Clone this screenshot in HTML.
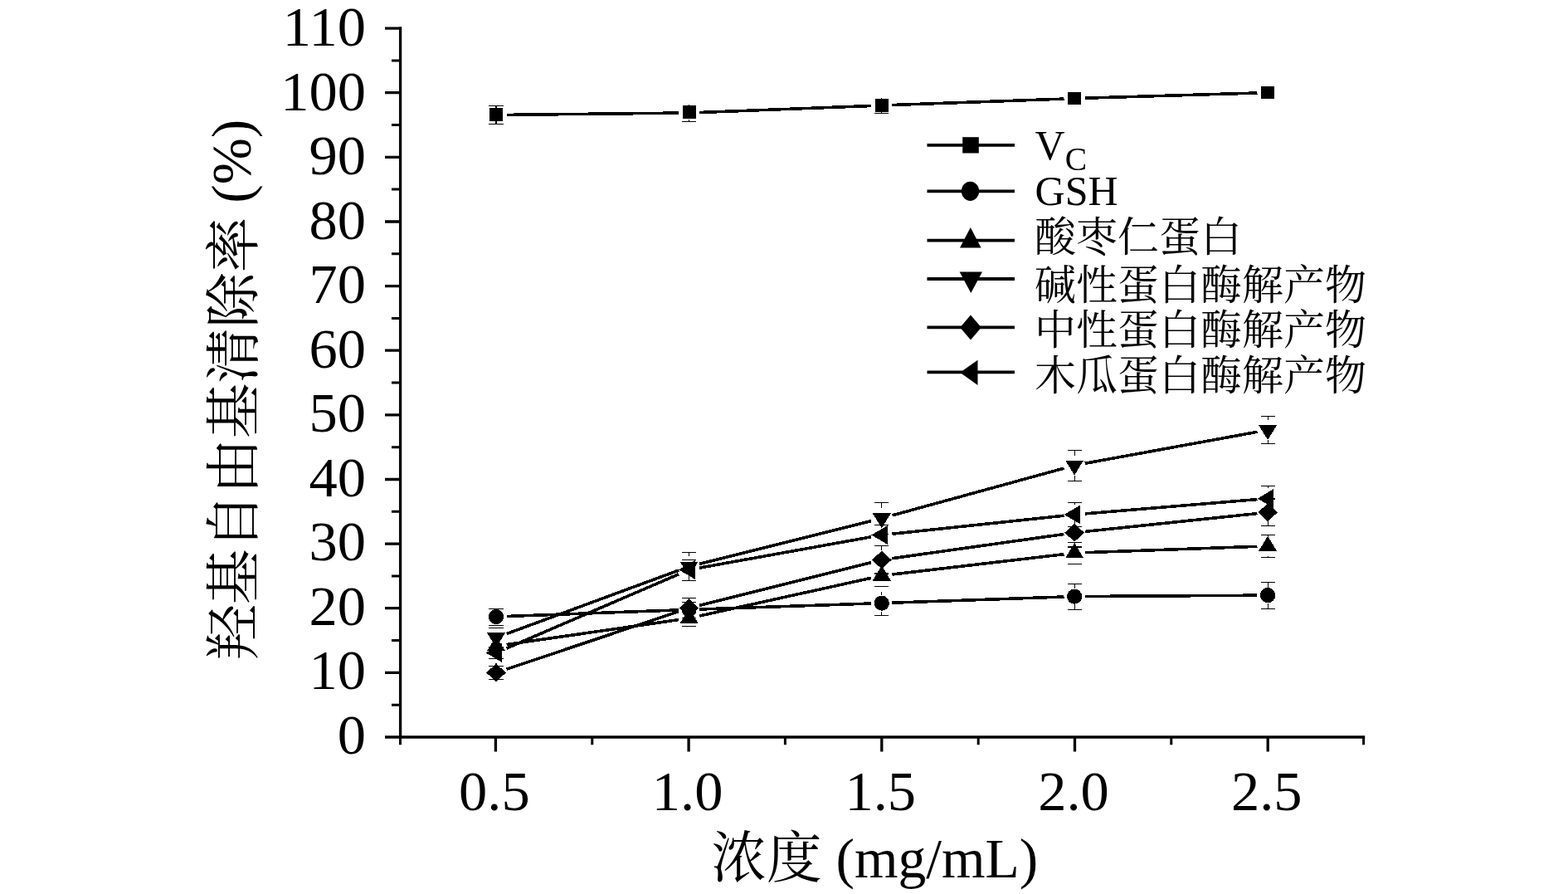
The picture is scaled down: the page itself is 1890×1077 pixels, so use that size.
<!DOCTYPE html>
<html lang="zh"><head><meta charset="utf-8"><title>羟基自由基清除率</title>
<style>html,body{margin:0;padding:0;background:#fff;overflow:hidden}svg{display:block}</style></head>
<body>
<svg width="1890" height="1077" viewBox="0 0 1890 1077">
<rect width="1890" height="1077" fill="#fff"/>
<g id="axes" stroke="#000" stroke-width="3.3" fill="none">
<path d="M482.6 32.4 V889.7"/>
<path d="M464 888 H1645.2"/>
<path d="M464 810.4 H484 M464 732.7 H484 M464 655.1 H484 M464 577.5 H484 M464 499.9 H484 M464 422.2 H484 M464 344.6 H484 M464 267 H484 M464 189.3 H484 M464 111.7 H484 M464 34.1 H484"/>
<path stroke-width="3" d="M472 849.2 H484 M472 771.6 H484 M472 693.9 H484 M472 616.3 H484 M472 538.7 H484 M472 461 H484 M472 383.4 H484 M472 305.8 H484 M472 228.1 H484 M472 150.5 H484 M472 72.9 H484"/>
<path d="M597.4 888 V905.5 M830.1 888 V905.5 M1062.8 888 V905.5 M1295.5 888 V905.5 M1528.2 888 V905.5"/>
<path stroke-width="3" d="M482.5 888 V897.2 M713.8 888 V897.2 M946.4 888 V897.2 M1179.2 888 V897.2 M1411.8 888 V897.2 M1643.6 888 V897.2"/>
</g>
<g id="curves" stroke="#000" stroke-width="3.6" fill="none" shape-rendering="crispEdges">
<path d="M610.6 138.4 L818 136.1 M843.2 135.5 L1050.2 127.5 M1075.4 126.5 L1282.5 119.1 M1307.7 118.2 L1515.5 112"/>
<path d="M610.6 742.5 L818 734.9 M843.2 734 L1050.2 727 M1075.4 726.2 L1282.5 719 M1307.7 718.5 L1515.5 717.2"/>
<path d="M610.6 776.5 L818 746.6 M843.2 742 L1050.2 696.3 M1075.4 692 L1282.5 667.7 M1307.7 665.7 L1515.5 658.3"/>
<path d="M610.6 763.6 L818 687.1 M843.2 679.3 L1050.2 627.6 M1075.4 620.9 L1282.5 564.1 M1307.7 558.3 L1515.5 520.3"/>
<path d="M610.6 806.2 L818 736.6 M843.2 729.3 L1050.2 677.6 M1075.4 672.7 L1282.5 643.5 M1307.7 640.4 L1515.5 618.6"/>
<path d="M610.6 781 L818 691.8 M843.2 684.1 L1050.2 646.8 M1075.4 643.2 L1282.5 621.2 M1307.7 618.9 L1515.5 601.6"/>
</g>
<g id="errorbars" stroke="#000" stroke-width="1.2" fill="none" shape-rendering="crispEdges">
<path d="M598 127.7 V130.4 M598 146.4 V149.1 M589.4 127.7 H606.6 M589.4 149.1 H606.6 M830.6 126 V128.2 M830.6 144.2 V146.5 M822 146.5 H839.2 M1062.8 118 V119.2 M1062.8 135.2 V136.3 M1054.2 136.3 H1071.4"/>
<path d="M598 733.3 V733.7 M598 752.9 V753.3 M589.4 733.3 H606.6 M589.4 753.3 H606.6 M822 725.5 H839.2 M1062.8 712.6 V717.3 M1062.8 736.5 V741.2 M1054.2 741.2 H1071.4 M1295.1 703.2 V709.2 M1295.1 728.4 V734.4 M1286.5 703.2 H1303.7 M1286.5 734.4 H1303.7 M1528.1 701.4 V707.9 M1528.1 727.1 V733.5 M1519.5 701.4 H1536.7 M1519.5 733.5 H1536.7"/>
<path d="M598 763.4 V766 M598 790.6 V793.2 M589.4 763.4 H606.6 M589.4 793.2 H606.6 M822 735.3 H839.2 M822 754.3 H839.2 M1062.8 680.5 V681.2 M1062.8 705.8 V706.5 M1054.2 706.5 H1071.4 M1295.1 653.6 V654.3 M1295.1 678.9 V679.6 M1286.5 653.6 H1303.7 M1286.5 679.6 H1303.7 M1528.1 644.5 V645.7 M1528.1 670.2 V671.4 M1519.5 644.5 H1536.7 M1519.5 671.4 H1536.7"/>
<path d="M589.4 756.4 H606.6 M589.4 780 H606.6 M830.6 665.4 V670.2 M830.6 694.4 V699.2 M822 665.4 H839.2 M822 699.2 H839.2 M1062.8 605.5 V612.4 M1062.8 636.6 V643.4 M1054.2 605.5 H1071.4 M1054.2 643.4 H1071.4 M1295.1 542.4 V548.9 M1295.1 573.1 V579.5 M1286.5 542.4 H1303.7 M1286.5 579.5 H1303.7 M1528.1 501.4 V505.9 M1528.1 530.1 V534.5 M1519.5 501.4 H1536.7 M1519.5 534.5 H1536.7"/>
<path d="M589.4 802.5 H606.6 M589.4 818.4 H606.6 M830.6 720.1 V721.4 M830.6 743.4 V744.7 M822 720.1 H839.2 M822 744.7 H839.2 M1062.8 657.6 V663.3 M1062.8 685.3 V691 M1054.2 657.6 H1071.4 M1054.2 691 H1071.4 M1295.1 624.5 V630.7 M1295.1 652.7 V658.9 M1286.5 658.9 H1303.7 M1528.1 601 V606.2 M1528.1 628.2 V633.5 M1519.5 601 H1536.7 M1519.5 633.5 H1536.7"/>
<path d="M598 770.4 V774.1 M598 798.7 V802.4 M589.4 802.4 H606.6 M822 674.4 H839.2 M1062.8 632.2 V632.4 M1062.8 657 V657.1 M1054.2 632.2 H1071.4 M1054.2 657.1 H1071.4 M1295.1 605.2 V607.6 M1295.1 632.2 V634.6 M1286.5 605.2 H1303.7 M1286.5 634.6 H1303.7 M1528.1 585.3 V588.3 M1528.1 612.9 V615.9 M1519.5 585.3 H1536.7 M1519.5 615.9 H1536.7"/>
</g>
<g id="markers" fill="#000" shape-rendering="crispEdges">
<rect x="590" y="130.3" width="16" height="15.6"/>
<rect x="822.6" y="127.1" width="16" height="15.6"/>
<rect x="1054.8" y="119" width="16" height="15.6"/>
<rect x="1287.1" y="110.8" width="16" height="15.6"/>
<rect x="1520.1" y="103.6" width="16" height="15.6"/>
<circle cx="598" cy="743" r="9.1"/>
<circle cx="830.6" cy="734.4" r="9.1"/>
<circle cx="1062.8" cy="726.6" r="9.1"/>
<circle cx="1295.1" cy="718.6" r="9.1"/>
<circle cx="1528.1" cy="717.1" r="9.1"/>
<polygon points="587,784.3 609,784.3 598,766.2"/>
<polygon points="819.6,750.8 841.6,750.8 830.6,732.7"/>
<polygon points="1051.8,699.5 1073.8,699.5 1062.8,681.4"/>
<polygon points="1284.1,672.2 1306.1,672.2 1295.1,654.1"/>
<polygon points="1517.1,663.8 1539.1,663.8 1528.1,645.7"/>
<polygon points="587,762.2 609,762.2 598,780.3"/>
<polygon points="819.6,676.5 841.6,676.5 830.6,694.6"/>
<polygon points="1051.8,618.4 1073.8,618.4 1062.8,636.5"/>
<polygon points="1284.1,554.6 1306.1,554.6 1295.1,572.7"/>
<polygon points="1517.1,512 1539.1,512 1528.1,530.1"/>
<polygon points="586.2,810.4 598,799.4 609.8,810.4 598,821.4"/>
<polygon points="818.8,732.4 830.6,721.4 842.4,732.4 830.6,743.4"/>
<polygon points="1051,674.5 1062.8,663.5 1074.6,674.5 1062.8,685.5"/>
<polygon points="1283.3,641.7 1295.1,630.7 1306.9,641.7 1295.1,652.7"/>
<polygon points="1516.3,617.3 1528.1,606.3 1539.9,617.3 1528.1,628.3"/>
<polygon points="585.6,786.4 604.9,775 604.9,797.8"/>
<polygon points="818.2,686.4 837.5,675 837.5,697.8"/>
<polygon points="1050.4,644.5 1069.7,633.1 1069.7,655.9"/>
<polygon points="1282.7,619.9 1302,608.5 1302,631.3"/>
<polygon points="1515.7,600.6 1535,589.2 1535,612"/>
</g>
<g id="legend-lines" stroke="#000" stroke-width="3.8" fill="none">
<path d="M1117.5 174.8 H1223"/>
<path d="M1117.5 230.3 H1223"/>
<path d="M1117.5 289.6 H1223"/>
<path d="M1117.5 336 H1223"/>
<path d="M1117.5 394.4 H1223"/>
<path d="M1117.5 448.4 H1223"/>
</g>
<g id="legend-markers" fill="#000">
<rect x="1160.2" y="165.2" width="19.6" height="19.3"/>
<ellipse cx="1169.5" cy="230.3" rx="10.6" ry="11.6"/>
<polygon points="1157,298.4 1182.6,298.4 1169.8,273.9"/>
<polygon points="1156.6,327.4 1184,327.4 1170.3,353"/>
<polygon points="1157.2,394.6 1170,379.6 1182.8,394.6 1170,409.6"/>
<polygon points="1157.2,448.8 1178.5,433.7 1178.5,464"/>
</g>
<g id="labels" font-family="'Liberation Serif','Noto Serif CJK SC',serif" fill="#000">
<g font-size="68.5" text-anchor="end">
<text x="441" y="907.8">0</text>
<text x="441" y="830.3">10</text>
<text x="441" y="752.8">20</text>
<text x="441" y="675.2">30</text>
<text x="441" y="597.7">40</text>
<text x="441" y="520.2">50</text>
<text x="441" y="442.7">60</text>
<text x="441" y="365.2">70</text>
<text x="441" y="287.6">80</text>
<text x="441" y="210.1">90</text>
<text x="441" y="132.6">100</text>
<text x="441" y="55.1">110</text>
</g>
<g font-size="68.5" text-anchor="middle">
<text x="595.9" y="976.2">0.5</text>
<text x="828.6" y="976.2">1.0</text>
<text x="1061.3" y="976.2">1.5</text>
<text x="1294" y="976.2">2.0</text>
<text x="1526.7" y="976.2">2.5</text>
</g>
<text x="1054.2" y="1057" font-size="66.7" text-anchor="middle">浓度<tspan font-size="67.5"> (mg/mL)</tspan></text>
<text transform="translate(305 469.4) rotate(-90)" font-size="66.7" text-anchor="middle">羟基自由基清除率<tspan font-size="67.3" dy="-3"> (%)</tspan></text>
<text x="1247.6" y="192" font-size="50">V<tspan font-size="39.5" dy="13.3">C</tspan></text>
<text x="1247.6" y="246.8" font-size="50">GSH</text>
<text x="1247" y="303" font-size="50">酸枣仁蛋白</text>
<text x="1247" y="360.6" font-size="50">碱性蛋白酶解产物</text>
<text x="1247" y="415.3" font-size="50">中性蛋白酶解产物</text>
<text x="1247" y="470" font-size="50">木瓜蛋白酶解产物</text>
</g>
</svg>
</body></html>
